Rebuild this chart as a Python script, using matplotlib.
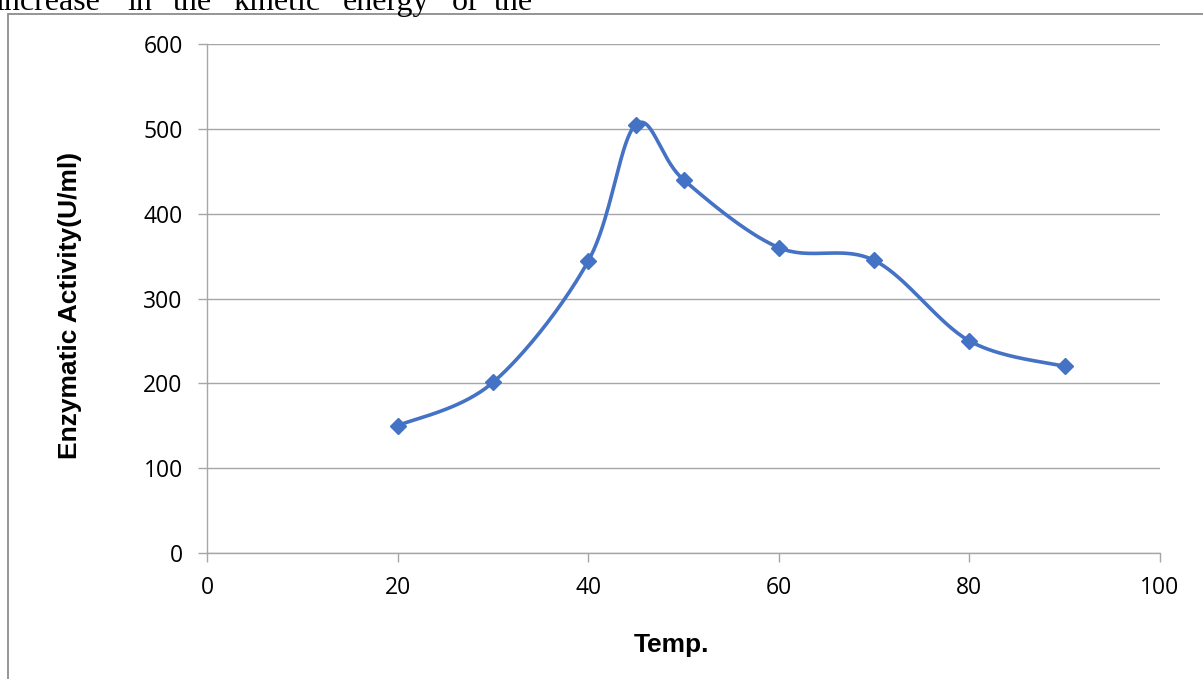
import matplotlib.pyplot as plt
import numpy as np
from matplotlib.patches import Rectangle

# data
temp = [20, 30, 40, 45, 50, 60, 70, 80, 90]
activity = [150, 201, 344, 505, 440, 360, 345, 250, 220]
x_ticks = [0, 20, 40, 60, 80, 100]
y_ticks = [0, 100, 200, 300, 400, 500, 600]
top_words = ["increase", "in", "the", "kinetic", "energy", "of", "the"]

W, H = 1203, 679
fig = plt.figure(figsize=(W / 100, H / 100), dpi=100)
ax = fig.add_axes([207 / W, 1 - 553 / H, (1160 - 207) / W, (553 - 44) / H])

ax.set_xlim(0, 100)
ax.set_ylim(0, 600)
ax.set_xticks(x_ticks)
ax.set_yticks(y_ticks)
ax.grid(axis='y', color='#a6a6a6', linewidth=1.0)
ax.set_axisbelow(True)
for s in ['top', 'right']:
    ax.spines[s].set_visible(False)
for s in ['left', 'bottom']:
    ax.spines[s].set_color('#a6a6a6')
    ax.spines[s].set_linewidth(1.0)
ax.tick_params(axis='both', color='#a6a6a6', length=6.5, width=1.0,
               labelsize=16.5, labelcolor='black')
ax.tick_params(axis='y', pad=11)
ax.tick_params(axis='x', pad=10)
for lab in ax.get_xticklabels() + ax.get_yticklabels():
    lab.set_family(['Open Sans', 'DejaVu Sans'])

# smoothed line like the spreadsheet: bezier through points in screen space
fig.canvas.draw()
pts = ax.transData.transform(np.column_stack([temp, activity]))
n = len(pts)
curve = []
for i in range(n - 1):
    p0 = pts[max(i - 1, 0)]
    p1 = pts[i]
    p2 = pts[i + 1]
    p3 = pts[min(i + 2, n - 1)]
    c1 = p1 + (p2 - p0) / 6.0
    c2 = p2 - (p3 - p1) / 6.0
    t = np.linspace(0, 1, 40)[:, None]
    seg = ((1 - t) ** 3) * p1 + 3 * ((1 - t) ** 2) * t * c1 + 3 * (1 - t) * t ** 2 * c2 + t ** 3 * p2
    curve.append(seg if i == 0 else seg[1:])
curve = ax.transData.inverted().transform(np.vstack(curve))
ax.plot(curve[:, 0], curve[:, 1], color='#4472C4', linewidth=2.6,
        solid_capstyle='round', clip_on=False)
ax.plot(temp, activity, linestyle='none', marker='D', markersize=8,
        color='#4472C4', clip_on=False)

fig.text(70 / W, 1 - 305 / H, 'Enzymatic Activity(U/ml)', fontsize=19,
         fontweight='bold', family=['Liberation Sans', 'DejaVu Sans'],
         rotation=90, ha='center', va='center')
fig.text(672 / W, 1 - 645 / H, 'Temp.', fontsize=19, fontweight='bold',
         family=['Liberation Sans'], ha='center', va='center')

# outer frame of the embedded chart
fig.patches.append(Rectangle((8 / W, -0.1), 1.2, 1 - 14 / H + 0.1,
                             transform=fig.transFigure, fill=False,
                             edgecolor='#8c8c8c', linewidth=1.3))

# clipped body text above the chart
word_x = [-5, 127, 173, 233, 343, 452, 494]
for wx, w in zip(word_x, top_words):
    fig.text(wx / W, 1 - 10 / H, w, fontsize=23, family=['Liberation Serif'],
             ha='left', va='baseline')

fig.savefig('out.png', dpi=100)
